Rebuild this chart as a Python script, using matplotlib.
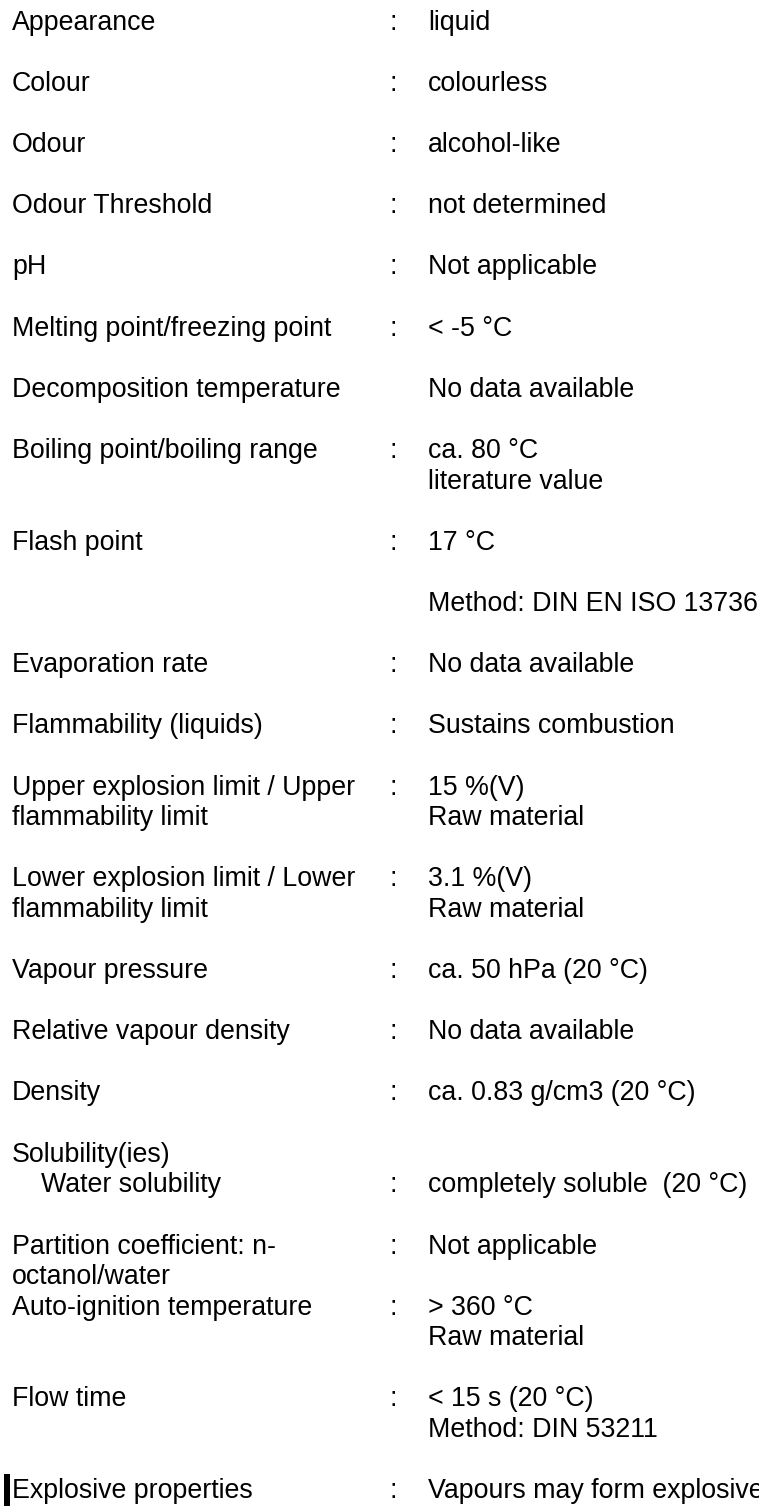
import matplotlib
matplotlib.use("Agg")
import matplotlib.pyplot as plt
from matplotlib.patches import Rectangle

# ---- data ----
labels = [
    ["Appearance"],
    ["Colour"],
    ["Odour"],
    ["Odour Threshold"],
    ["pH"],
    ["Melting point/freezing point"],
    ["Decomposition temperature"],
    ["Boiling point/boiling range"],
    ["Flash point"],
    ["Evaporation rate"],
    ["Flammability (liquids)"],
    ["Upper explosion limit / Upper", "flammability limit"],
    ["Lower explosion limit / Lower", "flammability limit"],
    ["Vapour pressure"],
    ["Relative vapour density"],
    ["Density"],
    ["Solubility(ies)"],
    ["Water solubility"],
    ["Partition coefficient: n-", "octanol/water"],
    ["Auto-ignition temperature"],
    ["Flow time"],
    ["Explosive properties"],
]
values = [
    ["liquid"],
    ["colourless"],
    ["alcohol-like"],
    ["not determined"],
    ["Not applicable"],
    ["< -5 °C"],
    ["No data available"],
    ["ca. 80 °C", "literature value"],
    ["17 °C", "", "Method: DIN EN ISO 13736"],
    ["No data available"],
    ["Sustains combustion"],
    ["15 %(V)", "Raw material"],
    ["3.1 %(V)", "Raw material"],
    ["ca. 50 hPa (20 °C)"],
    ["No data available"],
    ["ca. 0.83 g/cm3 (20 °C)"],
    [],
    ["completely soluble  (20 °C)"],
    ["Not applicable"],
    ["> 360 °C", "Raw material"],
    ["< 15 s (20 °C)", "Method: DIN 53211"],
    ["Vapours may form explosive"],
]
has_colon = [True, True, True, True, True, True, False, True, True, True, True,
             True, True, True, True, True, False, True, True, True, True, True]
marked_rows = ["Explosive properties"]

# ---- layout ----
W, H, DPI = 759, 1506, 100
gap_after = {"Solubility(ies)": 0, "Partition coefficient: n-": 0}
indent_rows = {"Water solubility": 41}
LABEL_X, COLON_X, VALUE_X = 12, 390, 428
FIRST_BASE, PITCH = 29.5, 30.6
FS = 19.3

fig = plt.figure(figsize=(W / DPI, H / DPI), dpi=DPI)
ax = fig.add_axes([0, 0, 1, 1])
ax.set_xlim(0, W)
ax.set_ylim(H, 0)
ax.axis("off")

font = dict(family=["Liberation Sans", "DejaVu Sans"], fontsize=FS, color="black", va="baseline")

line = 0
for lab, val, col in zip(labels, values, has_colon):
    x0 = indent_rows.get(lab[0], LABEL_X)
    for i, t in enumerate(lab):
        ax.text(x0, FIRST_BASE + (line + i) * PITCH, t, ha="left", **font)
    if col:
        ax.text(COLON_X, FIRST_BASE + line * PITCH, ":", ha="left", **font)
    for i, t in enumerate(val):
        if t:
            ax.text(VALUE_X, FIRST_BASE + (line + i) * PITCH, t, ha="left", **font)
    if lab[0] in marked_rows:
        y = FIRST_BASE + line * PITCH
        ax.add_patch(Rectangle((4, y - 24), 5.5, H - (y - 24), color="black", lw=0))
    n = max(len(lab), len(val), 1)
    line += n + gap_after.get(lab[0], 1)

fig.savefig("out.png", dpi=DPI, facecolor="white")
